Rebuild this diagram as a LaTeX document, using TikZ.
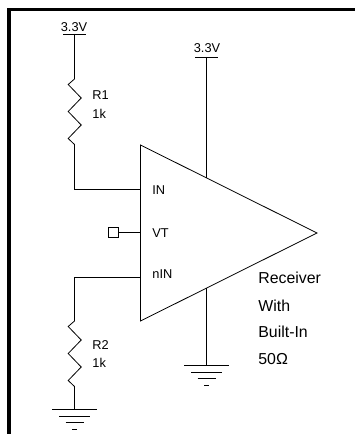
\documentclass[tikz,border=0pt]{standalone}
\usepackage{fontspec}
\setmainfont{Liberation Sans}
\usetikzlibrary{positioning}

\begin{document}
\begin{tikzpicture}[x=.75pt,y=-.75pt,line width=.6pt,
    pin label/.style={anchor=base west,inner sep=0pt,font=\fontsize{9.6pt}{11pt}\selectfont},
    rail label/.style={anchor=base,inner sep=0pt,font=\fontsize{9.6pt}{11pt}\selectfont},
    note label/.style={anchor=base west,inner sep=0pt,font=\fontsize{11.9pt}{14pt}\selectfont},
    test pad/.style={draw,rectangle,minimum size=8pt,inner sep=0pt},
    gnd/.pic={
        \draw (-22.5,0) -- (22.5,0);
        \draw (-15.5,7) -- (15.5,7);
        \draw (-9,13.5) -- (9,13.5);
        \draw (-2.5,20) -- (2.5,20);
    },
    zigzag/.pic={
        \draw (0,0) -- ++(-6.3,5.5) -- ++(13,13.5) -- ++(-13,13.5) -- ++(13,13.5) -- ++(-13,13.5) -- ++(6.3,6);
    }]
    \useasboundingbox (0,0) rectangle (355,434);
    \draw[line width=2.7pt] (9,434) -- (9,9.5) -- (355,9.5);

    % amplifier
    \coordinate (ampTop) at (140.5,145);
    \coordinate (ampBot) at (140.5,321);
    \coordinate (ampTip) at (317,233);
    \draw (ampTop) -- (ampBot) -- (ampTip) -- cycle;

    % R1 branch
    \coordinate (vcc1) at (74.5,34);
    \coordinate (r1top) at (74.5,79);
    \coordinate (r1bot) at (74.5,144);
    \coordinate (in) at (140.5,189);
    \draw (vcc1) ++(-11.5,0) -- ++(23,0);
    \draw (vcc1) -- (r1top);
    \pic at (r1top) {zigzag};
    \draw (r1bot) |- (in);
    \node[rail label] (vcc1text) at (74,31.7) {3.3V};
    \node[pin label] (r1name) at (92,100) {R1};
    \node[pin label] (r1val) at (92,118.3) {1k};

    % VT pin
    \node[test pad] (pad) at (113.5,232.5) {};
    \coordinate (vt) at (140.5,232.5);
    \draw (pad) -- (vt);

    % R2 branch
    \coordinate (nin) at (140.5,277);
    \coordinate (r2top) at (74.5,321);
    \coordinate (r2bot) at (74.5,386);
    \coordinate (gnd1) at (74.5,409);
    \draw (nin) -| (r2top);
    \pic at (r2top) {zigzag};
    \draw (r2bot) -- (gnd1);
    \pic at (gnd1) {gnd};
    \node[pin label] (r2name) at (92,349.7) {R2};
    \node[pin label] (r2val) at (92,367.7) {1k};

    % supply and ground of the amplifier
    \coordinate (vcc2) at (206.5,57);
    \coordinate (ampVcc) at (206.5,178);
    \coordinate (ampGnd) at (206.5,288);
    \coordinate (gnd2) at (206.5,365);
    \draw (vcc2) ++(-11.5,0) -- ++(23,0);
    \draw (vcc2) -- (ampVcc);
    \draw (ampGnd) -- (gnd2);
    \pic at (gnd2) {gnd};
    \node[rail label] (vcc2text) at (207,52.7) {3.3V};

    \node[pin label] (intext) at (152,195) {IN};
    \node[pin label] (vttext) at (152,237.7) {VT};
    \node[pin label] (nintext) at (152,278.7) {nIN};

    \node[note label] (note1) at (258,283.7) {Receiver};
    \node[note label] (note2) at (258,311) {With};
    \node[note label] (note3) at (258,337.7) {Built-In};
    \node[note label] (note4) at (258,364.7) {50Ω};
\end{tikzpicture}
\end{document}
